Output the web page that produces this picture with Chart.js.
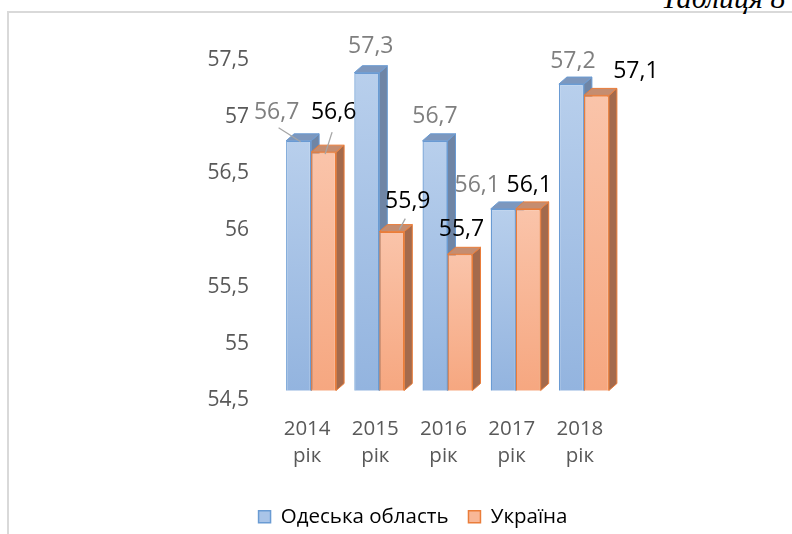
<!DOCTYPE html>
<html lang="uk">
<head>
<meta charset="utf-8">
<title>Одеська область і Україна</title>
<script src="https://cdn.jsdelivr.net/npm/chart.js@4.4.1/dist/chart.umd.min.js"></script>
<style>
  html, body { margin: 0; padding: 0; background: #fff; overflow: hidden; width: 792px; height: 534px; }
  #frame {
    position: absolute; left: 7px; top: 11px; width: 820px; height: 560px;
    border-left: 2px solid #d9d9d9; border-top: 2px solid #d9d9d9;
  }
  #caption {
    position: absolute; left: 661px; top: -19px; line-height: 1;
    font: italic 30px "Liberation Serif", serif; color: #000; white-space: nowrap;
  }
  #wrap { position: absolute; left: 0; top: 0; width: 792px; height: 537px; }
</style>
</head>
<body>
<div id="frame"></div>
<div id="caption">Таблиця 8</div>
<div id="wrap"><canvas id="chart" width="792" height="537"></canvas></div>
<script>
const years = [["2014", "рік"], ["2015", "рік"], ["2016", "рік"], ["2017", "рік"], ["2018", "рік"]];
const seriesNames = ["Одеська область", "Україна"];
const odesaValues = [56.7, 57.3, 56.7, 56.1, 57.2];
const ukraineValues = [56.6, 55.9, 55.7, 56.1, 57.1];
const yMin = 54.5;
const yMax = 57.5;
const yStep = 0.5;

// label placement relative to the top of each bar's front face
const labelShift = [
  [[-22, -28], [4, -26], [0, -24], [-26, -23], [1.5, -23]],
  [[10, -40], [16, -30], [1.5, -25], [1, -23], [39.5, -24]]
];
const leaderLines = [
  { 0: [[-20, -13], [2, 1]] },
  { 0: [[8.5, -20], [1.5, 2]], 1: [[13.5, -13], [7.5, -2]] }
];

const FONT = "'Open Sans', 'Noto Sans', sans-serif";
const DX = 8;
const DY = 7;

const palette = [
  { light: "#b8cfec", dark: "#93b4df", mid: "#a9c4e8", edge: "#6a9bd3", side: "#6f85a5", top: "#7d97bd", label: "#7f7f7f" },
  { light: "#fac4aa", dark: "#f6a780", mid: "#f8b797", edge: "#ea7d3a", side: "#a46a4c", top: "#c58d70", label: "#000000" }
];

function frontFill(p) {
  return (ctx) => {
    const chart = ctx.chart;
    if (!chart.chartArea || ctx.type !== "data") return p.mid;
    const y = chart.scales.y;
    const top = y.getPixelForValue(ctx.raw);
    const bottom = y.getPixelForValue(y.min);
    const g = chart.ctx.createLinearGradient(0, top, 0, bottom);
    g.addColorStop(0, p.light);
    g.addColorStop(1, p.dark);
    return g;
  };
}

// draws the bars series by series (blue first), each with a side and a top face
const bar3d = {
  id: "bar3d",
  beforeDatasetDraw() {
    return false;
  },
  afterDatasetsDraw(chart) {
    const c = chart.ctx;
    const area = chart.chartArea;
    const floor = chart.scales.y.getPixelForValue(chart.scales.y.min);
    chart.data.datasets.forEach((ds, di) => {
      const meta = chart.getDatasetMeta(di);
      const p = palette[di];
      meta.data.forEach((bar) => {
        c.save();
        c.beginPath();
        c.rect(area.left, area.top, area.width, area.height);
        c.clip();
        bar.draw(c, area);
        c.restore();

        const { x, y, width } = bar.getProps(["x", "y", "width"], true);
        const l = x - width / 2;
        const r = x + width / 2;
        c.save();
        c.lineWidth = 1;
        c.strokeStyle = p.edge;
        c.beginPath();
        c.moveTo(r, y);
        c.lineTo(r + DX, y - DY);
        c.lineTo(r + DX, floor - DY);
        c.lineTo(r, floor);
        c.closePath();
        c.fillStyle = p.side;
        c.fill();
        c.stroke();
        c.beginPath();
        c.moveTo(l, y);
        c.lineTo(l + DX, y - DY);
        c.lineTo(r + DX, y - DY);
        c.lineTo(r, y);
        c.closePath();
        c.fillStyle = p.top;
        c.fill();
        c.stroke();
        c.restore();
      });
    });
  }
};

const valueLabels = {
  id: "valueLabels",
  afterDatasetsDraw(chart) {
    const c = chart.ctx;
    c.save();
    c.font = "23px " + FONT;
    c.textAlign = "center";
    c.textBaseline = "middle";
    chart.data.datasets.forEach((ds, di) => {
      const meta = chart.getDatasetMeta(di);
      meta.data.forEach((bar, i) => {
        const lead = leaderLines[di][i];
        if (lead) {
          c.strokeStyle = "#a6a6a6";
          c.lineWidth = 1.3;
          c.beginPath();
          c.moveTo(bar.x + lead[0][0], bar.y + lead[0][1]);
          c.lineTo(bar.x + lead[1][0], bar.y + lead[1][1]);
          c.stroke();
        }
        const s = labelShift[di][i];
        c.fillStyle = palette[di].label;
        c.fillText(String(ds.data[i]).replace(".", ","), bar.x + s[0], bar.y + s[1]);
      });
    });
    c.restore();
  }
};

new Chart(document.getElementById("chart"), {
  type: "bar",
  data: {
    labels: years,
    datasets: [
      {
        label: seriesNames[0],
        data: odesaValues,
        backgroundColor: frontFill(palette[0]),
        borderColor: palette[0].edge,
        borderWidth: 1.3,
        borderSkipped: false,
        barPercentage: 1,
        categoryPercentage: 0.733
      },
      {
        label: seriesNames[1],
        data: ukraineValues,
        backgroundColor: frontFill(palette[1]),
        borderColor: palette[1].edge,
        borderWidth: 1.3,
        borderSkipped: false,
        barPercentage: 1,
        categoryPercentage: 0.733
      }
    ]
  },
  options: {
    responsive: false,
    animation: false,
    events: [],
    layout: { padding: { left: 34, top: 50, right: 0, bottom: 0 } },
    plugins: {
      tooltip: { enabled: false },
      legend: {
        position: "bottom",
        labels: {
          color: "#595959",
          font: { family: FONT, size: 20.5 },
          boxWidth: 12,
          boxHeight: 12,
          padding: 20,
          generateLabels: (chart) => chart.data.datasets.map((ds, i) => ({
            text: ds.label,
            fillStyle: palette[i].mid,
            strokeStyle: palette[i].edge,
            lineWidth: 1.5,
            datasetIndex: i
          }))
        }
      }
    },
    scales: {
      x: {
        grid: { display: false, drawTicks: false },
        border: { display: false },
        ticks: {
          color: "#595959",
          font: { family: FONT, size: 20.5, lineHeight: 1.32 },
          padding: 25,
          labelOffset: -4,
          maxRotation: 0
        },
        afterFit: (s) => { s.height = 96; }
      },
      y: {
        min: yMin,
        max: yMax,
        grid: { display: false, drawTicks: false },
        border: { display: false },
        ticks: {
          stepSize: yStep,
          color: "#595959",
          font: { family: FONT, size: 21 },
          padding: 28,
          labelOffset: 10,
          callback: (v) => String(v).replace(".", ",")
        },
        afterFit: (s) => { s.width = 243; }
      },
      yRight: {
        position: "right",
        grid: { display: false, drawTicks: false },
        border: { display: false },
        ticks: { display: false },
        afterFit: (s) => { s.width = 174; }
      }
    }
  },
  plugins: [bar3d, valueLabels]
});
</script>
</body>
</html>
